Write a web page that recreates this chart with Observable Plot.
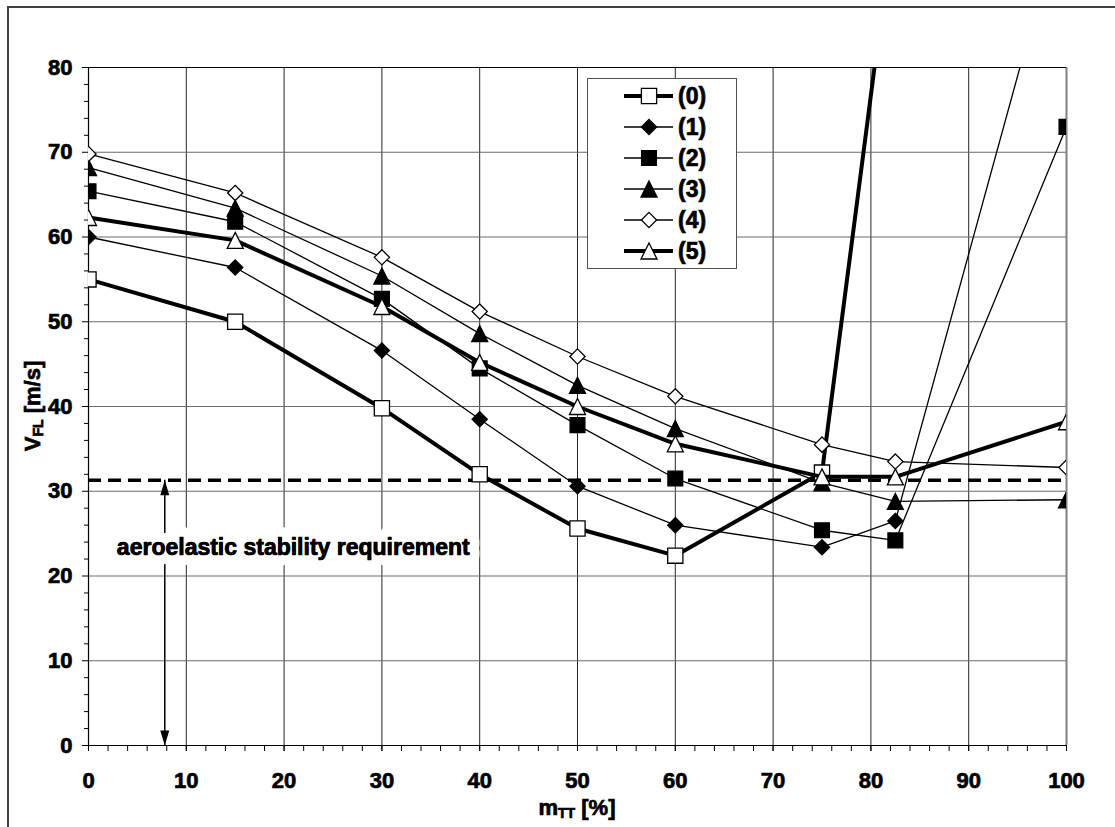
<!DOCTYPE html>
<html>
<head>
<meta charset="utf-8">
<script src="https://cdn.jsdelivr.net/npm/d3@7"></script>
<script src="https://cdn.jsdelivr.net/npm/@observablehq/plot@0.6"></script>
<style>
  body { margin: 0; background: white; }
  #wrap { position: relative; width: 1115px; height: 827px; overflow: hidden; font-family: "Liberation Sans", Arial, sans-serif; }
  #bt { position: absolute; left: 7px; top: 6px; right: 0; height: 2px; background: #404040; }
  #bl { position: absolute; left: 7px; top: 6px; bottom: 0; width: 2px; background: #404040; }
  #legend { position: absolute; left: 587px; top: 78px; width: 150px; height: 191px; box-sizing: border-box;
            border: 1px solid #505050; background: white; padding-top: 2px; }
  .row { position: relative; height: 31px; }
  .row svg { position: absolute; left: 33px; top: 5px; }
  .row span { position: absolute; left: 90px; top: 0; line-height: 31px; font-weight: bold; font-size: 23px; color: black;
              -webkit-text-stroke: 0.7px black; }
</style>
</head>
<body>
<div id="wrap"><div id="bt"></div><div id="bl"></div></div>
<script>
// ---- data ----
const xValues = [0, 15, 30, 40, 50, 60, 75, 82.5, 100];
const s0 = [55.0, 50.0, 39.8, 32.0, 25.6, 22.4, 32.2, 99.0, null];
const s1 = [60.0, 56.4, 46.6, 38.5, 30.6, 26.0, 23.4, 26.5, 100.0];
const s2 = [65.4, 61.8, 52.7, 44.5, 37.8, 31.5, 25.4, 24.2, 73.0];
const s3 = [68.2, 63.4, 55.4, 48.6, 42.5, 37.4, 31.0, 28.8, 29.0];
const s4 = [69.8, 65.2, 57.6, 51.2, 45.9, 41.2, 35.5, 33.5, 32.8];
const s5 = [62.3, 59.6, 51.8, 45.2, 40.0, 35.6, 31.7, 31.7, 38.2];
const seriesNames = ["(0)", "(1)", "(2)", "(3)", "(4)", "(5)"];
const seriesValues = [s0, s1, s2, s3, s4, s5];
const xTicks = [0, 10, 20, 30, 40, 50, 60, 70, 80, 90, 100];
const yTicks = [0, 10, 20, 30, 40, 50, 60, 70, 80];
const requirement = 31.3;
const arrowX = 7.8;
const noteText = "aeroelastic stability requirement";
const noteX = 2.9;
const noteY = 23.4;

// ---- symbols ----
const symSquare = { draw(c, size) { const h = Math.sqrt(size / Math.PI); c.rect(-h, -h, 2 * h, 2 * h); } };
const symDiamond = { draw(c, size) { const h = Math.sqrt(size / Math.PI); c.moveTo(0, -h); c.lineTo(h, 0); c.lineTo(0, h); c.lineTo(-h, 0); c.closePath(); } };
const symTriangle = { draw(c, size) { const h = Math.sqrt(size / Math.PI); c.moveTo(0, -h); c.lineTo(h, h); c.lineTo(-h, h); c.closePath(); } };
const arrowUp = { draw(c) { c.moveTo(0, 0); c.lineTo(4.5, 15); c.lineTo(-4.5, 15); c.closePath(); } };
const arrowDown = { draw(c) { c.moveTo(0, 0); c.lineTo(4.5, -15); c.lineTo(-4.5, -15); c.closePath(); } };

const seriesStyle = [
  { symbol: symSquare, r: 7.6, fill: "white", width: 4 },
  { symbol: symDiamond, r: 7.6, fill: "black", width: 1.3 },
  { symbol: symSquare, r: 7.4, fill: "black", width: 1.3 },
  { symbol: symTriangle, r: 8, fill: "black", width: 1.3 },
  { symbol: symDiamond, r: 7.6, fill: "white", width: 1.3 },
  { symbol: symTriangle, r: 8, fill: "white", width: 4 }
];

const rows = seriesNames.map((name, i) =>
  xValues.map((x, j) => ({ name, x, y: seriesValues[i][j] })).filter(d => d.y != null));

const minorX = d3.range(0, 101, 2);
const minorY = d3.range(0, 81, 2).filter(v => v % 10 !== 0);

const seriesMarks = rows.flatMap((data, i) => {
  const st = seriesStyle[i];
  return [
    Plot.line(data, { x: "x", y: "y", stroke: "black", strokeWidth: st.width, clip: "frame", strokeLinejoin: "round" }),
    Plot.dot(data, { x: "x", y: "y", symbol: st.symbol, r: st.r, fill: st.fill, stroke: "black", strokeWidth: 1.3, clip: "frame" })
  ];
});

const noteData = [{ x: noteX, y: noteY, t: noteText }];

const chart = Plot.plot({
  width: 1115,
  height: 827,
  marginLeft: 88,
  marginRight: 49,
  marginTop: 67,
  marginBottom: 82,
  style: { fontFamily: "'Liberation Sans', Arial, sans-serif", fontWeight: "bold", fontSize: "21.5px", background: "transparent", overflow: "visible" },
  x: { domain: [0, 100] },
  y: { domain: [0, 80] },
  marks: [
    Plot.ruleX(xTicks.filter(v => v > 0 && v < 100), { stroke: "#262626", strokeWidth: 1 }),
    Plot.ruleY(yTicks.filter(v => v > 0 && v < 80), { stroke: "#6a6a6a", strokeWidth: 1.2 }),
    Plot.ruleX([100], { stroke: "#808080", strokeWidth: 2 }),
    Plot.ruleY([80], { stroke: "black", strokeWidth: 1 }),
    Plot.axisX({ ticks: minorX, tickSize: 6, text: null, label: null, stroke: "black" }),
    Plot.axisX({ ticks: xTicks, tickSize: 6, tickPadding: 21, label: null, fontSize: 22, fontWeight: "bold", stroke: "black" }),
    Plot.axisY({ ticks: minorY, tickSize: 4, text: null, label: null, stroke: "black" }),
    Plot.axisY({ ticks: yTicks, tickSize: 6, tickPadding: 10, label: null, fontSize: 22, fontWeight: "bold", stroke: "black" }),
    Plot.ruleX([0], { stroke: "black", strokeWidth: 1.2 }),
    Plot.ruleY([0], { stroke: "black", strokeWidth: 1.2 }),
    Plot.ruleY([requirement], { x1: 0, x2: 100, stroke: "black", strokeWidth: 3.5, strokeDasharray: "13,7" }),
    Plot.ruleX([arrowX], { y1: 0, y2: requirement, stroke: "black", strokeWidth: 1.5 }),
    Plot.dot([{ x: arrowX, y: requirement }], { x: "x", y: "y", symbol: arrowUp, fill: "black", stroke: "none" }),
    Plot.dot([{ x: arrowX, y: 0 }], { x: "x", y: "y", symbol: arrowDown, fill: "black", stroke: "none" }),
    Plot.text(noteData, { x: "x", y: "y", text: "t", textAnchor: "start", fontSize: 23, fontWeight: "bold", fill: "black", stroke: "white", strokeWidth: 20, strokeLinejoin: "round", paintOrder: "stroke" }),
    Plot.text(noteData, { x: "x", y: "y", text: "t", textAnchor: "start", fontSize: 23, fontWeight: "bold", fill: "black", stroke: "black", strokeWidth: 0.7 }),
    ...seriesMarks
  ]
});

const wrap = document.getElementById("wrap");
chart.style.position = "absolute";
chart.style.left = "0px";
chart.style.top = "0px";
wrap.appendChild(chart);

const svg = d3.select(chart);

// thicken tick label glyphs (heavy bold look)
svg.selectAll("g").filter(function () {
  const a = this.getAttribute("aria-label") || "";
  return a.includes("tick label");
}).selectAll("text").attr("stroke", "black").attr("stroke-width", 0.7);

// axis titles with subscripts
const xs = chart.scale("x"), ys = chart.scale("y");
const xt = svg.append("text")
  .attr("x", (xs.apply(0) + xs.apply(100)) / 2).attr("y", 815)
  .attr("text-anchor", "middle").attr("font-size", 22).attr("font-weight", "bold")
  .attr("fill", "black").attr("stroke", "black").attr("stroke-width", 0.7);
xt.append("tspan").text("m");
xt.append("tspan").attr("font-size", 14).attr("dy", 3).text("TT");
xt.append("tspan").attr("dy", -3).text(" [%]");

const yt = svg.append("text")
  .attr("transform", `translate(40,${(ys.apply(0) + ys.apply(80)) / 2}) rotate(-90)`)
  .attr("text-anchor", "middle").attr("font-size", 22).attr("font-weight", "bold")
  .attr("fill", "black").attr("stroke", "black").attr("stroke-width", 0.7);
yt.append("tspan").text("V");
yt.append("tspan").attr("font-size", 14).attr("dy", 3).text("FL");
yt.append("tspan").attr("dy", -3).text(" [m/s]");

// legend
const legend = document.createElement("div");
legend.id = "legend";
seriesNames.forEach((name, i) => {
  const st = seriesStyle[i];
  const row = document.createElement("div");
  row.className = "row";
  const s = d3.create("svg").attr("width", 56).attr("height", 20);
  s.append("line").attr("x1", 3).attr("x2", 52).attr("y1", 10).attr("y2", 10)
    .attr("stroke", "black").attr("stroke-width", st.width);
  s.append("path").attr("transform", "translate(28,10)")
    .attr("d", d3.symbol(st.symbol, st.r * st.r * Math.PI)())
    .attr("fill", st.fill).attr("stroke", "black").attr("stroke-width", 1.3);
  row.appendChild(s.node());
  const sp = document.createElement("span");
  sp.textContent = name;
  row.appendChild(sp);
  legend.appendChild(row);
});
wrap.appendChild(legend);
</script>
</body>
</html>
